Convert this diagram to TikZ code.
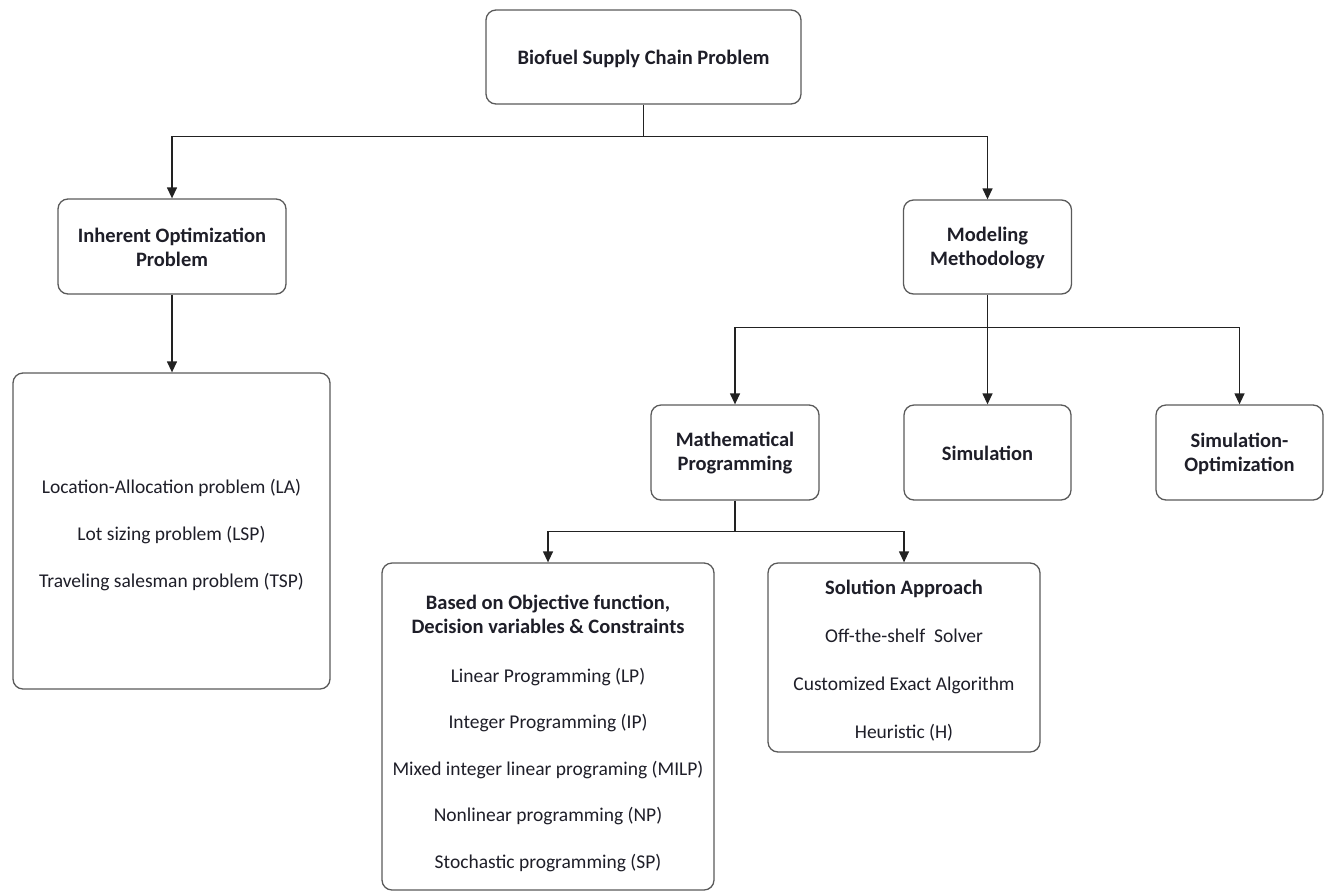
\documentclass[tikz,border=0pt]{standalone}
\usepackage{fontspec}
\setmainfont{Carlito}
\usetikzlibrary{arrows.meta}
\definecolor{boxline}{HTML}{5A5A5A}
\definecolor{linkline}{HTML}{222222}
\definecolor{ink}{HTML}{1E1E28}
\newcommand{\hd}[1]{{\fontsize{20.5}{24}\selectfont\bfseries #1}}
\tikzset{
  box/.style={draw=boxline, line width=1.3pt, rounded corners=10pt, fill=white,
    inner sep=0pt, align=center, text=ink, font=\fontsize{19.5}{24}\selectfont},
  hdr/.style={box, font=\fontsize{20.5}{24}\selectfont\bfseries},
  txt/.style={inner sep=0pt, align=center, text=ink, font=\fontsize{19.5}{24}\selectfont},
  link/.style={draw=linkline, line width=1.3pt},
  arr/.style={link, -{Triangle[length=11pt,width=10pt]}}
}
\begin{document}
\begin{tikzpicture}[x=1pt,y=-1pt]
\useasboundingbox (0,0) rectangle (1329,892);

% top level
\node[hdr, minimum width=315pt, minimum height=94pt] (top) at (643.5,57) {};
\node[txt, font=\fontsize{20.5}{24}\selectfont\bfseries] (top-t) at (643.5,59) {Biofuel Supply Chain Problem};

% second level
\node[hdr, minimum width=228pt, minimum height=95pt] (inh) at (172,246.5) {};
\node[txt, font=\fontsize{20.5}{24}\selectfont\bfseries] (inh-t) at (172,247.5) {Inherent Optimization\\Problem};
\node[hdr, minimum width=168pt, minimum height=94pt] (mod) at (987.5,247) {};
\node[txt, font=\fontsize{20.5}{24}\selectfont\bfseries] (mod-t) at (987.5,248) {Modeling\\Methodology};

% optimization problems
\node[box, minimum width=317pt, minimum height=316pt] (opt) at (171.5,531) {};
\node[txt] (opt-t) at (171.5,535)
  {Location-Allocation problem (LA)\\[23pt]Lot sizing problem (LSP)\\[23pt]Traveling salesman problem (TSP)};

% methodologies
\node[hdr, minimum width=168pt, minimum height=95pt] (math) at (735,452.5) {};
\node[txt, font=\fontsize{20.5}{24}\selectfont\bfseries] (math-t) at (735,453.5) {Mathematical\\Programming};
\node[hdr, minimum width=167pt, minimum height=95pt] (sim) at (987.5,452.5) {};
\node[txt, font=\fontsize{20.5}{24}\selectfont\bfseries] (sim-t) at (987.5,453.5) {Simulation};
\node[hdr, minimum width=167pt, minimum height=95pt] (simopt) at (1239.5,452.5) {};
\node[txt, font=\fontsize{20.5}{24}\selectfont\bfseries] (simopt-t) at (1239.5,453.5) {Simulation-\\Optimization};

% mathematical programming branches
\node[box, minimum width=332pt, minimum height=327pt] (based) at (548,726.5) {};
\node[txt] (based-t) at (548,733)
  {\hd{Based on Objective function,}\\\hd{Decision variables \& Constraints}\\[25pt]
   Linear Programming (LP)\\[22.5pt]Integer Programming (IP)\\[22.5pt]
   Mixed integer linear programing (MILP)\\[22.5pt]Nonlinear programming (NP)\\[22.5pt]
   Stochastic programming (SP)};
\node[box, minimum width=272pt, minimum height=189pt] (sol) at (904,657.5) {};
\node[txt] (sol-t) at (904,661)
  {\hd{Solution Approach}\\[24pt]Off-the-shelf\ \ Solver\\[24pt]Customized Exact Algorithm\\[24pt]Heuristic (H)};

% connectors
\draw[link] (top.south) -- ++(0,32) coordinate (j1);
\draw[arr] (j1) -| (inh.north);
\draw[arr] (j1) -| (mod.north);
\draw[arr] (inh.south) -- (inh.south |- opt.north);

\draw[link] (mod.south) -- ++(0,33) coordinate (j2);
\draw[arr] (j2) -| (math.north);
\draw[arr] (j2) -- (sim.north);
\draw[arr] (j2) -| (simopt.north);

\draw[link] (math.south) -- ++(0,31) coordinate (j3);
\draw[arr] (j3) -| (based.north);
\draw[arr] (j3) -| (sol.north);
\end{tikzpicture}
\end{document}
